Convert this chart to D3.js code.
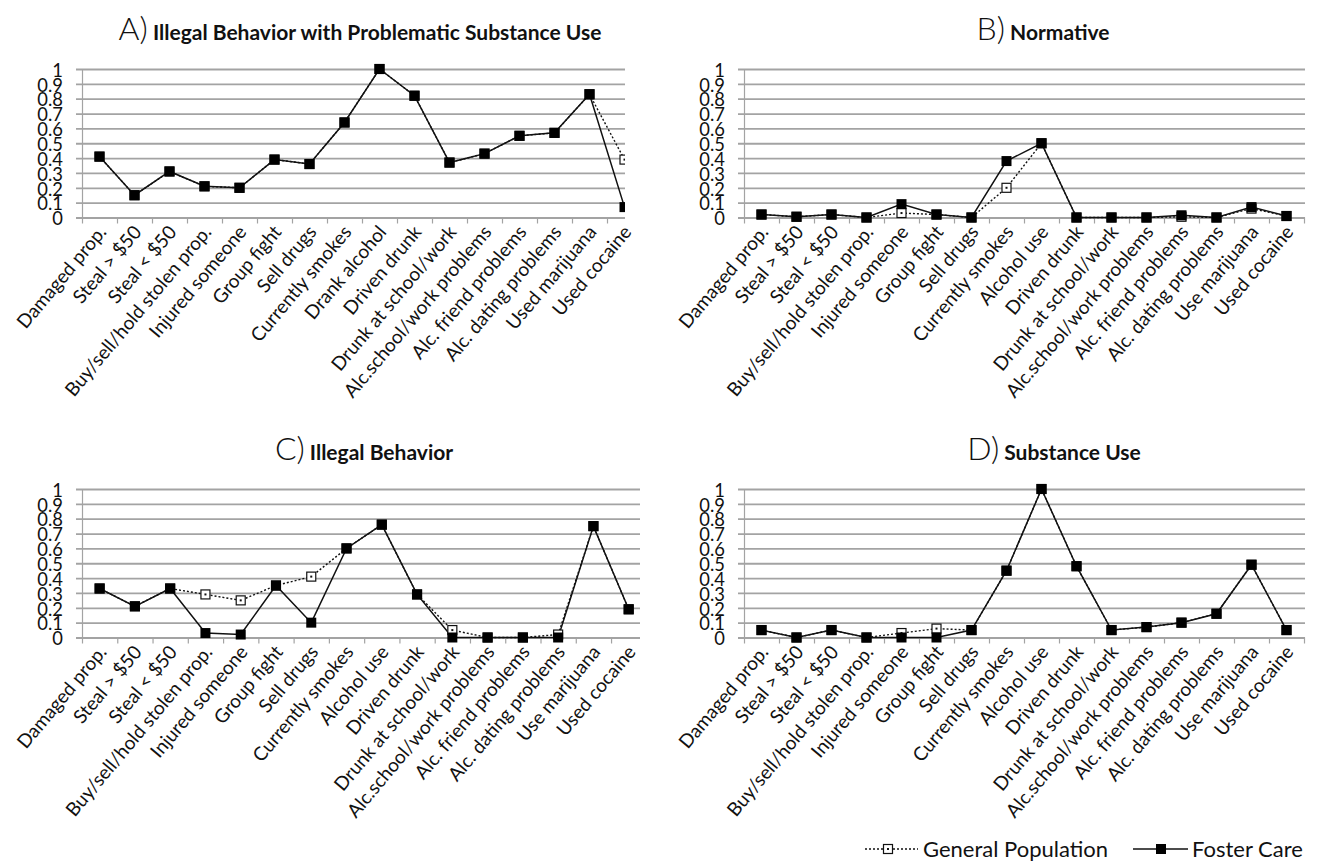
<!DOCTYPE html>
<html>
<head>
<meta charset="utf-8">
<script src="https://cdn.jsdelivr.net/npm/d3@7"></script>
<style>
  html, body { margin: 0; padding: 0; background: #fff; }
  svg { display: block; }
  text { font-family: Lato, "Open Sans", sans-serif; fill: #111; }
</style>
</head>
<body>
<svg id="chart" width="1322" height="867"></svg>
<script>
// ---------- data ----------
const categoriesA = ["Damaged prop.", "Steal > $50", "Steal < $50", "Buy/sell/hold stolen prop.",
  "Injured someone", "Group fight", "Sell drugs", "Currently smokes", "Drank alcohol", "Driven drunk",
  "Drunk at school/work", "Alc.school/work problems", "Alc. friend problems", "Alc. dating problems",
  "Used marijuana", "Used cocaine"];
const categoriesBCD = ["Damaged prop.", "Steal > $50", "Steal < $50", "Buy/sell/hold stolen prop.",
  "Injured someone", "Group fight", "Sell drugs", "Currently smokes", "Alcohol use", "Driven drunk",
  "Drunk at school/work", "Alc.school/work problems", "Alc. friend problems", "Alc. dating problems",
  "Use marijuana", "Used cocaine"];

const fosterA  = [0.41, 0.15, 0.31, 0.21, 0.20, 0.39, 0.36, 0.64, 1.00, 0.82, 0.37, 0.43, 0.55, 0.57, 0.83, 0.07];
const generalA = [0.41, 0.15, 0.31, 0.21, 0.20, 0.39, 0.36, 0.64, 1.00, 0.82, 0.37, 0.43, 0.55, 0.57, 0.83, 0.39];

const fosterB  = [0.02, 0.005, 0.02, 0.00, 0.09, 0.02, 0.00, 0.38, 0.50, 0.00, 0.00, 0.00, 0.015, 0.00, 0.07, 0.01];
const generalB = [0.02, 0.005, 0.02, 0.00, 0.03, 0.02, 0.00, 0.20, 0.50, 0.00, 0.00, 0.00, 0.005, 0.00, 0.06, 0.01];

const fosterC  = [0.33, 0.21, 0.33, 0.03, 0.02, 0.35, 0.10, 0.60, 0.76, 0.29, 0.00, 0.00, 0.00, 0.00, 0.75, 0.19];
const generalC = [0.33, 0.21, 0.33, 0.29, 0.25, 0.35, 0.41, 0.60, 0.76, 0.29, 0.05, 0.00, 0.00, 0.02, 0.75, 0.19];

const fosterD  = [0.05, 0.00, 0.05, 0.00, 0.00, 0.00, 0.05, 0.45, 1.00, 0.48, 0.05, 0.07, 0.10, 0.16, 0.49, 0.05];
const generalD = [0.05, 0.00, 0.05, 0.00, 0.03, 0.06, 0.05, 0.45, 1.00, 0.48, 0.05, 0.07, 0.10, 0.16, 0.49, 0.05];

const yTicks = [0, 0.1, 0.2, 0.3, 0.4, 0.5, 0.6, 0.7, 0.8, 0.9, 1];
const yTickLabels = ["0", "0.1", "0.2", "0.3", "0.4", "0.5", "0.6", "0.7", "0.8", "0.9", "1"];
const panelLetters = ["A)", "B)", "C)", "D)"];
const panelTitles = ["Illegal Behavior with Problematic Substance Use", "Normative", "Illegal Behavior", "Substance Use"];
const legendLabels = ["General Population", "Foster Care"];

// ---------- layout ----------
const panels = [
  { cats: categoriesA, fc: fosterA, gp: generalA, left: 82, band: 35.0, top: 69, bottom: 217.5, clip: 625, titleX: 360, titleY: 40 },
  { cats: categoriesBCD, fc: fosterB, gp: generalB, left: 744, band: 35.0, top: 69, bottom: 217.5, clip: 1305, titleX: 1043, titleY: 40 },
  { cats: categoriesBCD, fc: fosterC, gp: generalC, left: 82, band: 35.27, top: 489, bottom: 637.5, clip: 640, titleX: 364, titleY: 460 },
  { cats: categoriesBCD, fc: fosterD, gp: generalD, left: 744, band: 35.0, top: 489, bottom: 637.5, clip: 1305, titleX: 1054, titleY: 460 }
];

const svg = d3.select("#chart");
const gridColor = "#a3a3a3";

panels.forEach((p, pi) => {
  const width = p.band * p.cats.length;
  const x = d3.scaleBand().domain(p.cats).range([p.left, p.left + width]);
  const xb = d3.scaleLinear().domain([0, p.cats.length]).range([p.left, p.left + width]);
  const y = d3.scaleLinear().domain([0, 1]).range([p.bottom, p.top]);
  const cx = c => x(c) + x.bandwidth() / 2;
  const visW = p.clip - p.left;

  const g = svg.append("g");
  const clipId = "clip" + pi;
  svg.append("clipPath").attr("id", clipId)
    .append("rect").attr("x", p.left - 20).attr("y", p.top - 20).attr("width", p.clip - p.left + 20).attr("height", p.bottom - p.top + 40);

  // y axis with gridlines
  const yAxis = d3.axisLeft(y).tickValues(yTicks)
    .tickFormat((d, i) => yTickLabels[i]).tickSizeInner(-visW).tickSizeOuter(0).tickPadding(19);
  const ya = g.append("g").attr("transform", `translate(${p.left},0)`).call(yAxis);
  ya.select(".domain").attr("stroke", gridColor).attr("stroke-width", 1.2);
  ya.selectAll(".tick line").attr("x1", -6).attr("stroke", gridColor).attr("stroke-width", 1.8);
  ya.selectAll(".tick text").style("font-family", "Lato, sans-serif").style("font-weight", 400)
    .style("font-size", "20px").attr("fill", "#222").attr("dy", "0.36em")
    .attr("transform", "scale(0.92,1)").attr("x", -19 / 0.92);

  // x axis tick marks at band boundaries
  const xTickVals = d3.range(p.cats.length + 1).filter(i => xb(i) <= p.clip + 0.5);
  const xAxis = d3.axisBottom(xb).tickValues(xTickVals).tickFormat("").tickSizeInner(6).tickSizeOuter(0);
  const xa = g.append("g").attr("transform", `translate(0,${p.bottom})`).call(xAxis);
  xa.select(".domain").remove();
  xa.selectAll(".tick line").attr("stroke", gridColor).attr("stroke-width", 1.2);

  // category labels
  const labAxis = d3.axisBottom(x).tickSize(0).tickPadding(0);
  const la = g.append("g").attr("transform", `translate(0,${p.bottom})`).call(labAxis);
  la.select(".domain").remove();
  la.selectAll(".tick text")
    .style("font-family", "Lato, sans-serif").style("font-size", "19px").attr("fill", "#111")
    .attr("text-anchor", "end").attr("dy", null).attr("y", 0)
    .attr("transform", "translate(8,15) rotate(-50)");

  // lines
  const plot = g.append("g").attr("clip-path", `url(#${clipId})`);
  const line = d3.line().x((d, i) => cx(p.cats[i])).y(d => y(d));
  plot.append("path").datum(p.gp).attr("d", line).attr("fill", "none")
    .attr("stroke", "#111").attr("stroke-width", 1.4).attr("stroke-dasharray", "2,2");
  plot.append("path").datum(p.fc).attr("d", line).attr("fill", "none")
    .attr("stroke", "#111").attr("stroke-width", 1.5);

  // markers
  const gs = 9;
  plot.selectAll(".gp").data(p.gp).enter().append("rect")
    .attr("x", (d, i) => cx(p.cats[i]) - gs / 2).attr("y", d => y(d) - gs / 2)
    .attr("width", gs).attr("height", gs).attr("fill", "#fff").attr("stroke", "#111").attr("stroke-width", 1.2);
  plot.selectAll(".gpdot").data(p.gp).enter().append("rect")
    .attr("x", (d, i) => cx(p.cats[i]) - 1).attr("y", d => y(d) - 1)
    .attr("width", 2).attr("height", 2).attr("fill", "#111");
  const fs = 10;
  plot.selectAll(".fc").data(p.fc).enter().append("rect")
    .attr("x", (d, i) => cx(p.cats[i]) - fs / 2).attr("y", d => y(d) - fs / 2)
    .attr("width", fs).attr("height", fs).attr("fill", "#000");

  // title
  const t = svg.append("text").attr("x", p.titleX).attr("y", p.titleY).attr("text-anchor", "middle");
  t.append("tspan").text(panelLetters[pi]).style("font-family", "Lato, sans-serif")
    .style("font-weight", 300).style("font-size", "32px");
  t.append("tspan").text(" " + panelTitles[pi]).style("font-family", "Lato, sans-serif")
    .style("font-weight", 700).style("font-size", "21px");
});

// ---------- legend ----------
const lg = svg.append("g");
const ly = 849;
// General population
lg.append("line").attr("x1", 865).attr("x2", 918).attr("y1", ly).attr("y2", ly)
  .attr("stroke", "#111").attr("stroke-width", 1.4).attr("stroke-dasharray", "2,2");
lg.append("rect").attr("x", 883.5).attr("y", ly - 4.5).attr("width", 9).attr("height", 9)
  .attr("fill", "#fff").attr("stroke", "#111").attr("stroke-width", 1.2);
lg.append("rect").attr("x", 887).attr("y", ly - 1).attr("width", 2).attr("height", 2).attr("fill", "#111");
lg.append("text").attr("x", 923).attr("y", ly).attr("dy", "0.35em")
  .style("font-size", "22px").text(legendLabels[0]);
// Foster care
lg.append("line").attr("x1", 1133).attr("x2", 1188).attr("y1", ly).attr("y2", ly)
  .attr("stroke", "#111").attr("stroke-width", 1.5);
lg.append("rect").attr("x", 1156).attr("y", ly - 5).attr("width", 10).attr("height", 10).attr("fill", "#000");
lg.append("text").attr("x", 1192).attr("y", ly).attr("dy", "0.35em")
  .style("font-size", "22px").text(legendLabels[1]);
</script>
</body>
</html>
